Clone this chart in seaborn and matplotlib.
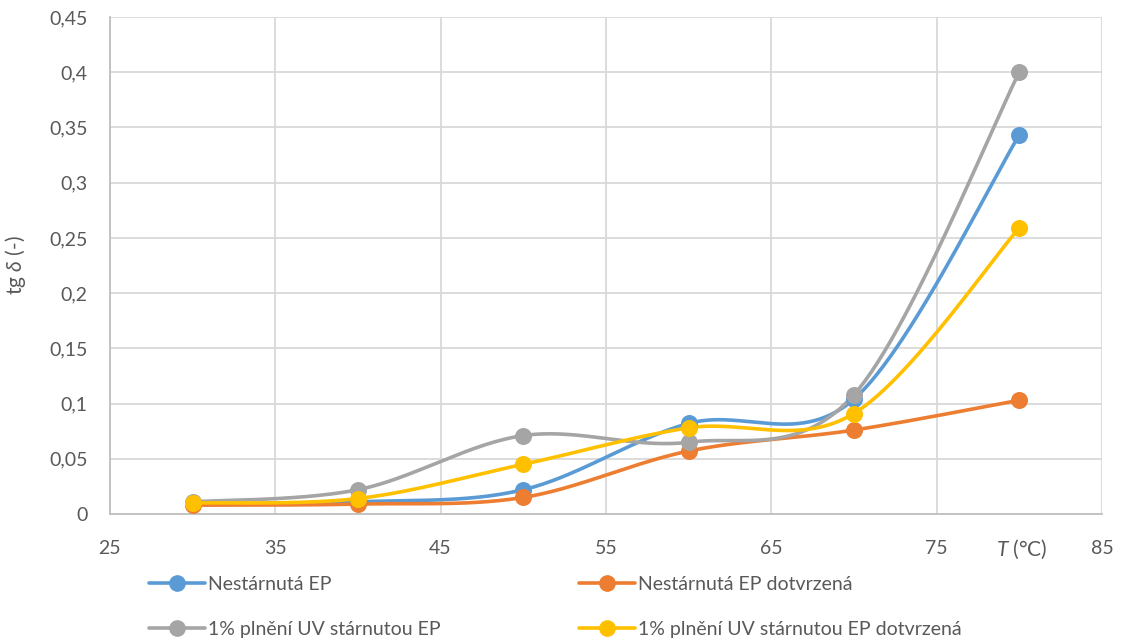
import numpy as np
import pandas as pd
import matplotlib
matplotlib.use("Agg")
import matplotlib.pyplot as plt
from matplotlib.lines import Line2D
import seaborn as sns

# Measured loss factor vs. temperature
temperature = [30, 40, 50, 60, 70, 80]
nestarnuta = [0.009, 0.011, 0.022, 0.082, 0.104, 0.343]
nestarnuta_dotvrzena = [0.008, 0.009, 0.015, 0.057, 0.076, 0.103]
uv_starnuta = [0.011, 0.022, 0.071, 0.065, 0.108, 0.400]
uv_starnuta_dotvrzena = [0.010, 0.014, 0.045, 0.078, 0.091, 0.259]

series_names = [
    "Nestárnutá EP",
    "Nestárnutá EP dotvrzená",
    "1% plnění UV stárnutou EP",
    "1% plnění UV stárnutou EP dotvrzená",
]
series_values = [nestarnuta, nestarnuta_dotvrzena, uv_starnuta, uv_starnuta_dotvrzena]
colors = ["#5B9BD5", "#ED7D31", "#A5A5A5", "#FFC000"]

x_ticks = [25, 35, 45, 55, 65, 75, 85]
y_ticks = [0, 0.05, 0.1, 0.15, 0.2, 0.25, 0.3, 0.35, 0.4, 0.45]


def smooth_curve(xs, ys, n=60):
    """Bezier smoothing through all points (Catmull-Rom style control points)."""
    p = np.column_stack([xs, ys]).astype(float)
    pts = np.vstack([p[0], p, p[-1]])
    out = []
    t = np.linspace(0, 1, n)[:, None]
    for i in range(1, len(pts) - 2):
        p0, p1, p2, p3 = pts[i - 1], pts[i], pts[i + 1], pts[i + 2]
        c1 = p1 + (p2 - p0) / 6.0
        c2 = p2 - (p3 - p1) / 6.0
        seg = ((1 - t) ** 3) * p1 + 3 * ((1 - t) ** 2) * t * c1 + 3 * (1 - t) * t ** 2 * c2 + t ** 3 * p2
        out.append(seg if i == 1 else seg[1:])
    arr = np.vstack(out)
    return arr[:, 0], arr[:, 1]


sns.set_theme(style="white")
plt.rcParams["font.family"] = ["Lato", "DejaVu Sans"]
plt.rcParams["mathtext.fontset"] = "custom"
plt.rcParams["mathtext.it"] = "Lato:italic"
plt.rcParams["mathtext.rm"] = "Lato"

fig = plt.figure(figsize=(11.21, 6.43), dpi=100)
ax = fig.add_axes([0.098, 0.2006, 0.885, 0.773])

text_color = "#595959"
grid_color = "#D9D9D9"
fs = 14

for name, vals, col in zip(series_names, series_values, colors):
    sx, sy = smooth_curve(temperature, vals)
    curve = pd.DataFrame({"T": sx, "v": sy})
    sns.lineplot(data=curve, x="T", y="v", ax=ax, color=col, linewidth=2.6,
                 sort=False, estimator=None, zorder=3)
    pts = pd.DataFrame({"T": temperature, "v": vals})
    sns.scatterplot(data=pts, x="T", y="v", ax=ax, color=col, s=150,
                    edgecolor=col, linewidth=0, zorder=4)

ax.set_xlim(25, 85)
ax.set_ylim(0, 0.45)
ax.set_xticks(x_ticks)
ax.set_yticks(y_ticks)
ax.set_xticklabels([str(v) for v in x_ticks])
ax.set_yticklabels([("%g" % v).replace(".", ",") for v in y_ticks])
ax.tick_params(axis="both", colors=text_color, labelsize=fs, length=0)
ax.tick_params(axis="x", pad=19)
ax.tick_params(axis="y", pad=16)
ax.grid(True, color=grid_color, linewidth=1.3)
ax.set_axisbelow(True)
for side in ["top", "right"]:
    ax.spines[side].set_visible(False)
ax.spines["left"].set_color("#BFBFBF")
ax.spines["bottom"].set_color("#BFBFBF")
ax.spines["left"].set_linewidth(1.3)
ax.spines["bottom"].set_linewidth(1.3)

ax.set_xlabel("")
ax.set_ylabel(r"tg $\it{\delta}$ (-)", color=text_color, fontsize=fs + 1)
ax.yaxis.set_label_coords(-0.083, 0.5)
ax.text(0.919, -0.047, r"$\it{T}$ (°C)", transform=ax.transAxes, ha="center",
        va="top", color=text_color, fontsize=fs + 1)

handles = [
    Line2D([0], [0], color=c, linewidth=2.6, marker="o", markersize=11)
    for c in colors
]
order = [0, 2, 1, 3]
leg = fig.legend([handles[i] for i in order], [series_names[i] for i in order],
                 ncol=2, loc="upper left", bbox_to_anchor=(0.117, 0.132),
                 frameon=False, fontsize=fs, handlelength=2.9, handletextpad=0.15,
                 columnspacing=7.1, labelspacing=1.45)
for t in leg.get_texts():
    t.set_color(text_color)

fig.savefig("out.png", dpi=100)
